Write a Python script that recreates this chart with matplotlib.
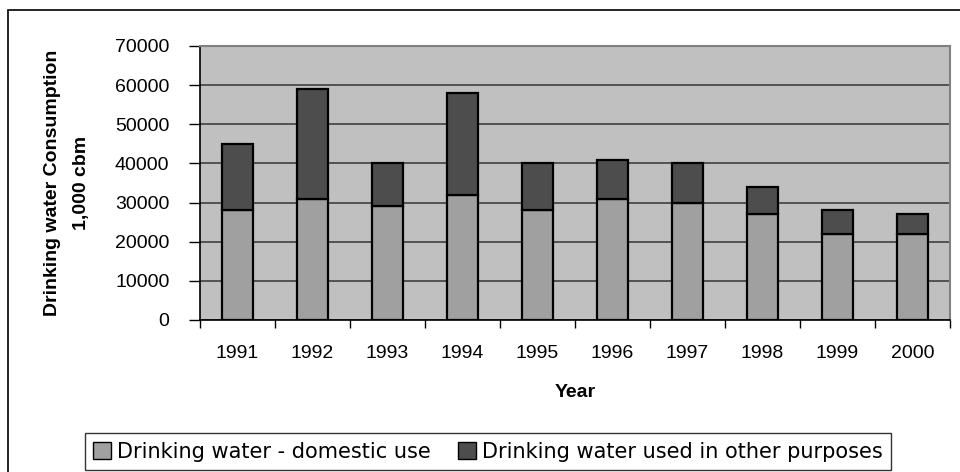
import matplotlib
matplotlib.use("Agg")
import matplotlib.pyplot as plt
from matplotlib.patches import Rectangle, Patch
import numpy as np

plt.rcParams['font.family'] = ['Liberation Sans', 'DejaVu Sans']

years = ['1991', '1992', '1993', '1994', '1995', '1996', '1997', '1998', '1999', '2000']
domestic = [28000, 31000, 29000, 32000, 28000, 31000, 29800, 27000, 22000, 22000]
total = [45000, 59000, 40000, 58000, 40000, 41000, 40000, 34000, 28000, 27000]
other = [t - d for t, d in zip(total, domestic)]

c_dom = '#a0a0a0'
c_oth = '#4d4d4d'

fig = plt.figure(figsize=(9.6, 4.72), dpi=100)
ax = fig.add_axes([200 / 960, 152 / 472, 750 / 960, 274 / 472])
ax.set_facecolor('#c0c0c0')

x = np.arange(len(years))
ax.bar(x, domestic, width=0.41, color=c_dom, edgecolor='black', linewidth=1.6, zorder=3)
ax.bar(x, other, bottom=domestic, width=0.41, color=c_oth, edgecolor='black', linewidth=1.6, zorder=3)

ax.set_xlim(-0.5, len(years) - 0.5)
ax.set_ylim(0, 70000)
ax.set_yticks(range(0, 70001, 10000))
ax.yaxis.grid(True, color='#404040', linewidth=1.2, zorder=1)
ax.set_axisbelow(True)

ax.set_xticks(x)
ax.set_xticklabels(years, fontsize=14)
ax.set_xticks(np.arange(-0.5, len(years)), minor=True)
ax.tick_params(axis='x', which='major', length=0, pad=18)
ax.tick_params(axis='x', which='minor', length=6, width=1, color='black', direction='out')
ax.tick_params(axis='y', length=8, width=1, labelsize=14, pad=14)

for side in ['top', 'right']:
    ax.spines[side].set_color('#808080')
    ax.spines[side].set_linewidth(1.5)
for side in ['left', 'bottom']:
    ax.spines[side].set_color('black')
    ax.spines[side].set_linewidth(1.2)

ax.set_ylabel('Drinking water Consumption\n1,000 cbm', fontsize=14, fontweight='bold', linespacing=1.9)
ax.yaxis.set_label_coords(-0.147, 0.5)
ax.set_xlabel('Year', fontsize=14, fontweight='bold')
ax.xaxis.set_label_coords(0.5, -0.232)

handles = [Patch(facecolor=c_dom, edgecolor='black', linewidth=1),
           Patch(facecolor=c_oth, edgecolor='black', linewidth=1)]
leg = fig.legend(handles, ['Drinking water - domestic use', 'Drinking water used in other purposes'],
                 loc='lower center', bbox_to_anchor=(488 / 960, 2 / 472), borderaxespad=0, ncol=2,
                 prop={'family': 'DejaVu Sans', 'size': 15},
                 frameon=True, fancybox=False, edgecolor='black', handlelength=0.85, handleheight=0.85,
                 handletextpad=0.3, columnspacing=1.3, borderpad=0.4)
leg.get_frame().set_linewidth(1)

fig.add_artist(Rectangle((8 / 960, -0.1), 1.2, 1 - 10 / 472 + 0.1, transform=fig.transFigure,
                         fill=False, edgecolor='black', linewidth=1.2))

fig.savefig('out.png', dpi=100)
